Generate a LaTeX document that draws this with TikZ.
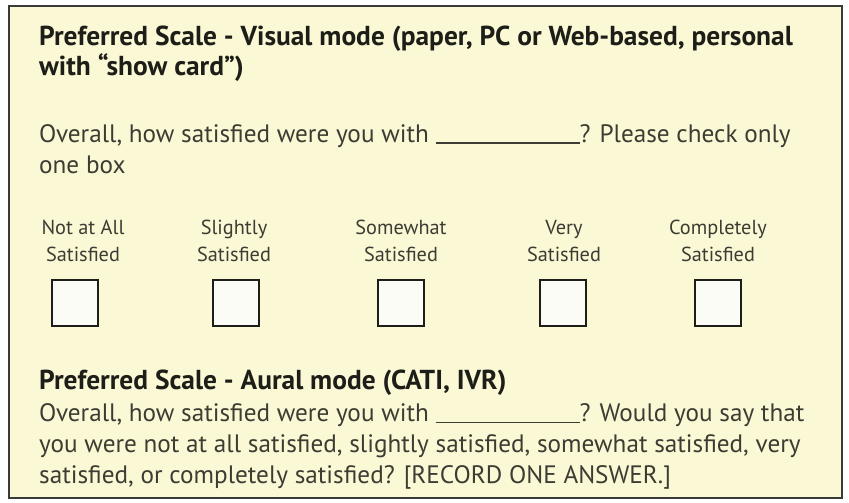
\documentclass[tikz,border=0pt]{standalone}
\usepackage{fontspec}
\setmainfont{PT Sans}

\definecolor{cardfill}{HTML}{FBF8D6}
\definecolor{frameink}{HTML}{3A3A36}
\definecolor{headink}{HTML}{1E1E18}
\definecolor{bodyink}{HTML}{3C3C32}
\definecolor{boxfill}{HTML}{FCFCF6}

\tikzset{
  heading/.style={anchor=base west, inner sep=0pt, align=left, text=headink,
    font=\bfseries\fontsize{27.4}{30}\selectfont},
  bodytext/.style={anchor=base west, inner sep=0pt, align=left, text=bodyink,
    font=\fontsize{25.2}{30.7}\selectfont},
  choicelabel/.style={anchor=base, inner sep=0pt, align=center, text=bodyink,
    font=\fontsize{20.3}{27}\selectfont},
  tickbox/.style={draw=headink, line width=1.8pt, fill=boxfill,
    minimum size=46pt, inner sep=0pt}
}

\newcommand{\blankline}{\rule[-1.2pt]{144pt}{1.3pt}}

\begin{document}
\begin{tikzpicture}[x=1pt, y=-1pt]
  \useasboundingbox (0,0) rectangle (849,503);
  % card
  \draw[frameink, line width=2.6pt, fill=cardfill] (9,6) rectangle (842,498);

  % visual mode (anchors sit on the last line)
  \node[heading] (visualhead) at (39,76)
    {Preferred Scale - Visual mode (paper, PC or Web-based, personal\\
     with ``show card'')};
  \node[bodytext] (visualq) at (39,173)
    {Overall, how satisfied were you with \blankline? Please check only\\
     one box};

  % answer boxes
  \foreach \bx/\lx/\first/\name in
      {75/83/Not at All/notatall, 236/234/Slightly/slightly,
       401/401/Somewhat/somewhat, 563/564/Very/very,
       718/718/Completely/completely} {
    \node[choicelabel] (\name-label) at (\lx,261) {\first\\Satisfied};
    \node[tickbox] (\name-box) at (\bx,303) {};
  }

  % aural mode
  \node[heading] (auralhead) at (39,389)
    {Preferred Scale - Aural mode (CATI, IVR)};
  \node[bodytext] (auralq) at (39,483)
    {Overall, how satisfied were you with \blankline? Would you say that\\
     you were not at all satisfied, slightly satisfied, somewhat satisfied, very\\
     satisfied, or completely satisfied? [RECORD ONE ANSWER.]};
\end{tikzpicture}
\end{document}
